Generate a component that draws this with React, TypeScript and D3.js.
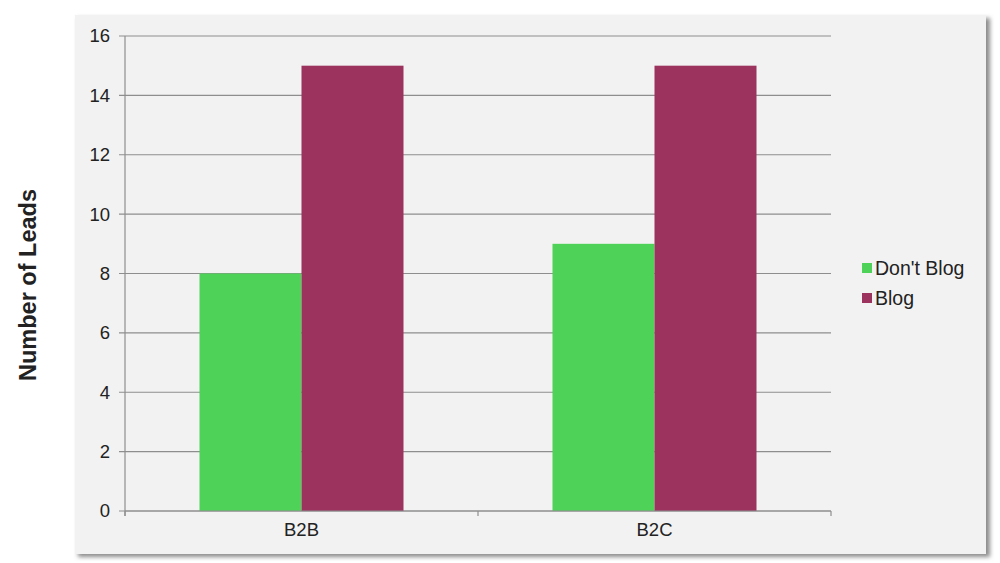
import React from "react";
import * as d3 from "d3";

const categories = ["B2B", "B2C"];
const seriesNames = ["Don't Blog", "Blog"];
const dontBlog = [8, 9];
const blog = [15, 15];
const yTicks = [0, 2, 4, 6, 8, 10, 12, 14, 16];
const colors = ["#4fd258", "#9c335f"];

export default function App() {
  const W = 1000, H = 563;
  const left = 125, right = 831, top = 36, bottom = 511;
  const x = d3.scaleBand<string>().domain(categories).range([left, right]).paddingInner(0).paddingOuter(0);
  const y = d3.scaleLinear().domain([0, 16]).range([bottom, top]);
  const groupW = 204;
  const inner = d3.scaleBand<number>().domain([0, 1]).range([0, groupW]).padding(0);
  const series = [dontBlog, blog];
  const font = "Helvetica, 'Liberation Sans', Arial, sans-serif";
  return (
    <svg width={W} height={H} style={{ position: "absolute", left: 0, top: 0 }} fontFamily={font}>
      <defs>
        <filter id="sh" x="-5%" y="-5%" width="110%" height="110%">
          <feGaussianBlur stdDeviation="2" />
        </filter>
      </defs>
      <rect x={0} y={0} width={W} height={H} fill="#ffffff" />
      <rect x={78} y={18} width={912} height={539} fill="#8c8c8c" filter="url(#sh)" />
      <rect x={75} y={15} width={911} height={539} fill="#f2f2f2" />
      {yTicks.map((t) => (
        <g key={t}>
          <line x1={left - 6} x2={right} y1={y(t)} y2={y(t)} stroke="#8e8e8e" strokeWidth={1.2} />
          <text x={110} y={y(t)} dy="0.35em" textAnchor="end" fontSize={18.5} fill="#222">{t}</text>
        </g>
      ))}
      <line x1={left} x2={left} y1={top} y2={bottom + 5} stroke="#8e8e8e" strokeWidth={1.2} />
      {[left, left + x.bandwidth(), right].map((v, i) => (
        <line key={i} x1={v} x2={v} y1={bottom} y2={bottom + 5} stroke="#8e8e8e" strokeWidth={1.2} />
      ))}
      {categories.map((c, ci) => {
        const gx = (x(c) as number) + (x.bandwidth() - groupW) / 2;
        return (
          <g key={c}>
            {series.map((s, si) => (
              <rect key={si} x={gx + (inner(si) as number)} y={y(s[ci])} width={inner.bandwidth()} height={bottom - y(s[ci])} fill={colors[si]} />
            ))}
            <text x={(x(c) as number) + x.bandwidth() / 2} y={536} textAnchor="middle" fontSize={18.5} fill="#222">{c}</text>
          </g>
        );
      })}
      <line x1={left} x2={right} y1={bottom} y2={bottom} stroke="#8e8e8e" strokeWidth={1.2} />
      {seriesNames.map((n, i) => (
        <g key={n}>
          <rect x={862} y={263 + i * 30} width={10} height={10} fill={colors[i]} />
          <text x={875} y={268 + i * 30} dy="0.35em" fontSize={19.5} fill="#222">{n}</text>
        </g>
      ))}
      <text transform="translate(28,285) rotate(-90)" textAnchor="middle" dy="0.35em" fontSize={23.5} fontWeight="bold" fill="#222">Number of Leads</text>
    </svg>
  );
}
